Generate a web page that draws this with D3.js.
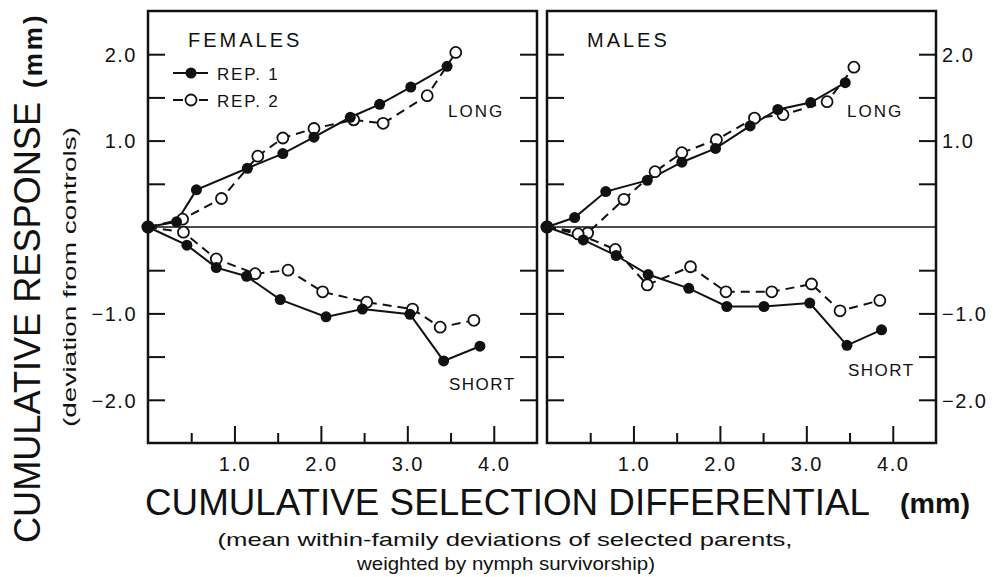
<!DOCTYPE html>
<html>
<head>
<meta charset="utf-8">
<script src="https://cdn.jsdelivr.net/npm/d3@7"></script>
<style>
  body { margin: 0; background: #fff; }
  svg { display: block; font-family: "Liberation Sans", Arial, sans-serif; }
</style>
</head>
<body>
<div id="chart"></div>
<script>
// Cumulative selection differential (x) vs cumulative response (y)
const femalesLongRep1 = [[0, 0], [0.33, 0.06], [0.56, 0.43], [1.15, 0.68], [1.56, 0.85], [1.92, 1.04], [2.34, 1.27], [2.68, 1.42], [3.04, 1.62], [3.46, 1.86]];
const femalesLongRep2 = [[0, 0], [0.40, 0.09], [0.85, 0.33], [1.27, 0.82], [1.56, 1.03], [1.92, 1.14], [2.38, 1.24], [2.72, 1.20], [3.23, 1.52], [3.56, 2.02]];
const femalesShortRep1 = [[0, 0], [0.45, -0.21], [0.79, -0.47], [1.14, -0.57], [1.53, -0.84], [2.06, -1.04], [2.48, -0.95], [3.03, -1.01], [3.42, -1.55], [3.84, -1.38]];
const femalesShortRep2 = [[0, 0], [0.41, -0.06], [0.79, -0.37], [1.24, -0.54], [1.62, -0.50], [2.02, -0.75], [2.53, -0.87], [3.06, -0.95], [3.38, -1.16], [3.77, -1.08]];

const malesLongRep1 = [[0, 0], [0.32, 0.11], [0.68, 0.41], [1.16, 0.54], [1.56, 0.75], [1.95, 0.91], [2.35, 1.17], [2.67, 1.36], [3.05, 1.44], [3.45, 1.67]];
const malesLongRep2 = [[0, 0], [0.47, -0.07], [0.89, 0.32], [1.25, 0.64], [1.56, 0.86], [1.96, 1.01], [2.40, 1.26], [2.73, 1.30], [3.24, 1.45], [3.55, 1.85]];
const malesShortRep1 = [[0, 0], [0.42, -0.15], [0.80, -0.33], [1.17, -0.55], [1.64, -0.71], [2.08, -0.92], [2.51, -0.92], [3.04, -0.88], [3.47, -1.37], [3.87, -1.19]];
const malesShortRep2 = [[0, 0], [0.36, -0.08], [0.79, -0.26], [1.16, -0.67], [1.66, -0.46], [2.07, -0.75], [2.60, -0.75], [3.06, -0.66], [3.39, -0.97], [3.85, -0.85]];

const xMajorTicks = [1, 2, 3, 4];
const xMinorTicks = [0.5, 1.5, 2.5, 3.5];
const yTicks = [-2, -1.5, -1, -0.5, 0.5, 1, 1.5, 2];
const yLabelTicks = [-2, -1, 1, 2];

const W = 993, H = 577;
const plotTop = 11, plotBottom = 443;
const panelW = 389;

const svg = d3.select("#chart").append("svg")
    .attr("width", W)
    .attr("height", H);

const y = d3.scaleLinear().domain([-2.5, 2.5]).range([plotBottom, plotTop]);
const fmt = d3.format(".1f");

const panels = [
    { label: "FEMALES", left: 148, long: [femalesLongRep1, femalesLongRep2], short: [femalesShortRep1, femalesShortRep2], shortY: 390, labelsLeft: true },
    { label: "MALES", left: 547, long: [malesLongRep1, malesLongRep2], short: [malesShortRep1, malesShortRep2], shortY: 376, labelsLeft: false }
];

panels.forEach(p => {
    const x = d3.scaleLinear().domain([0, 4.5]).range([p.left, p.left + panelW]);
    const g = svg.append("g");

    // zero line
    g.append("line")
        .attr("x1", x(0)).attr("x2", x(4.5))
        .attr("y1", y(0)).attr("y2", y(0))
        .attr("stroke", "#111").attr("stroke-width", 1.6);

    // x axis: long major ticks with labels, short minor ticks
    const xMajor = g.append("g")
        .attr("transform", `translate(0,${plotBottom})`)
        .call(d3.axisBottom(x).tickValues(xMajorTicks).tickSize(-17).tickPadding(14).tickFormat(fmt));
    const xMinor = g.append("g")
        .attr("transform", `translate(0,${plotBottom})`)
        .call(d3.axisBottom(x).tickValues(xMinorTicks).tickSize(-10).tickFormat(""));

    // y axes on both sides, ticks pointing inward
    const yl = g.append("g")
        .attr("transform", `translate(${x(0)},0)`)
        .call(d3.axisLeft(y).tickValues(yTicks).tickSize(-17).tickPadding(11)
            .tickFormat(d => p.labelsLeft && yLabelTicks.includes(d) ? fmt(d) : ""));
    const yr = g.append("g")
        .attr("transform", `translate(${x(4.5)},0)`)
        .call(d3.axisRight(y).tickValues(yTicks).tickSize(-17).tickPadding(6)
            .tickFormat(d => !p.labelsLeft && yLabelTicks.includes(d) ? fmt(d) : ""));

    [xMajor, xMinor, yl, yr].forEach(a => {
        a.select(".domain").remove();
        a.selectAll(".tick line").attr("stroke", "#111").attr("stroke-width", 2);
        a.selectAll(".tick text")
            .attr("fill", "#111")
            .style("font-size", "20px")
            .style("letter-spacing", "1.5px");
    });
    [xMinor, yl, yr].forEach(a => a.selectAll(".tick text").filter(function () { return this.textContent === ""; }).remove());
    yl.selectAll(".tick text").attr("dy", "0.36em");
    yr.selectAll(".tick text").attr("dy", "0.36em");

    // frame
    g.append("rect")
        .attr("x", x(0)).attr("y", plotTop)
        .attr("width", panelW).attr("height", plotBottom - plotTop)
        .attr("fill", "none").attr("stroke", "#111").attr("stroke-width", 2.5);

    const line = d3.line().x(d => x(d[0])).y(d => y(d[1]));

    [p.long, p.short].forEach(pair => {
        g.append("path").datum(pair[1])
            .attr("d", line).attr("fill", "none")
            .attr("stroke", "#111").attr("stroke-width", 2)
            .attr("stroke-dasharray", "9,6");
        g.append("path").datum(pair[0])
            .attr("d", line).attr("fill", "none")
            .attr("stroke", "#111").attr("stroke-width", 2);
    });
    [p.long, p.short].forEach(pair => {
        g.selectAll(null).data(pair[1]).enter().append("circle")
            .attr("cx", d => x(d[0])).attr("cy", d => y(d[1])).attr("r", 5.5)
            .attr("fill", "#fff").attr("stroke", "#111").attr("stroke-width", 1.8);
        g.selectAll(null).data(pair[0]).enter().append("circle")
            .attr("cx", d => x(d[0])).attr("cy", d => y(d[1])).attr("r", 5.5)
            .attr("fill", "#111");
    });

    g.append("text")
        .attr("x", x(0) + 40).attr("y", 47)
        .style("font-size", "20px").style("letter-spacing", "3px")
        .attr("fill", "#111")
        .text(p.label);

    g.append("text")
        .attr("x", x(0) + 300).attr("y", 117)
        .style("font-size", "17px").style("letter-spacing", "2px")
        .attr("fill", "#111")
        .text("LONG");

    g.append("text")
        .attr("x", x(0) + 301).attr("y", p.shortY)
        .style("font-size", "17px").style("letter-spacing", "1.5px")
        .attr("fill", "#111")
        .text("SHORT");
});

// legend (females panel)
const leg = svg.append("g");
leg.append("line").attr("x1", 173).attr("x2", 208).attr("y1", 73).attr("y2", 73)
    .attr("stroke", "#111").attr("stroke-width", 2);
leg.append("circle").attr("cx", 191).attr("cy", 73).attr("r", 5.5).attr("fill", "#111");
leg.append("line").attr("x1", 173).attr("x2", 208).attr("y1", 100).attr("y2", 100)
    .attr("stroke", "#111").attr("stroke-width", 2).attr("stroke-dasharray", "10,16");
leg.append("circle").attr("cx", 191).attr("cy", 100).attr("r", 5.5)
    .attr("fill", "#fff").attr("stroke", "#111").attr("stroke-width", 1.8);
leg.append("text").attr("x", 217).attr("y", 80)
    .style("font-size", "17px").style("letter-spacing", "1.8px").attr("fill", "#111").text("REP. 1");
leg.append("text").attr("x", 217).attr("y", 107)
    .style("font-size", "17px").style("letter-spacing", "1.8px").attr("fill", "#111").text("REP. 2");

// axis titles
svg.append("text")
    .attr("x", 145).attr("y", 515)
    .attr("textLength", 725).attr("lengthAdjust", "spacingAndGlyphs")
    .style("font-size", "37px").attr("fill", "#111")
    .text("CUMULATIVE SELECTION DIFFERENTIAL");
svg.append("text")
    .attr("x", 900).attr("y", 513)
    .attr("textLength", 70).attr("lengthAdjust", "spacingAndGlyphs")
    .style("font-size", "28px").style("font-weight", "bold").attr("fill", "#111")
    .text("(mm)");
svg.append("text")
    .attr("x", 505).attr("y", 546)
    .attr("text-anchor", "middle")
    .attr("textLength", 575).attr("lengthAdjust", "spacingAndGlyphs")
    .style("font-size", "19px").attr("fill", "#111")
    .text("(mean within-family deviations of selected parents,");
svg.append("text")
    .attr("x", 506).attr("y", 570)
    .attr("text-anchor", "middle")
    .attr("textLength", 298).attr("lengthAdjust", "spacingAndGlyphs")
    .style("font-size", "19px").attr("fill", "#111")
    .text("weighted by nymph survivorship)");

svg.append("text")
    .attr("transform", "translate(40,543) rotate(-90)")
    .attr("textLength", 441).attr("lengthAdjust", "spacingAndGlyphs")
    .style("font-size", "37px").attr("fill", "#111")
    .text("CUMULATIVE RESPONSE");
svg.append("text")
    .attr("transform", "translate(42,88) rotate(-90)")
    .style("font-size", "26px").style("font-weight", "bold").style("letter-spacing", "3px")
    .attr("fill", "#111")
    .text("(mm)");
svg.append("text")
    .attr("transform", "translate(76,427) rotate(-90)")
    .attr("textLength", 300).attr("lengthAdjust", "spacingAndGlyphs")
    .style("font-size", "18px").attr("fill", "#111")
    .text("(deviation from controls)");
</script>
</body>
</html>
